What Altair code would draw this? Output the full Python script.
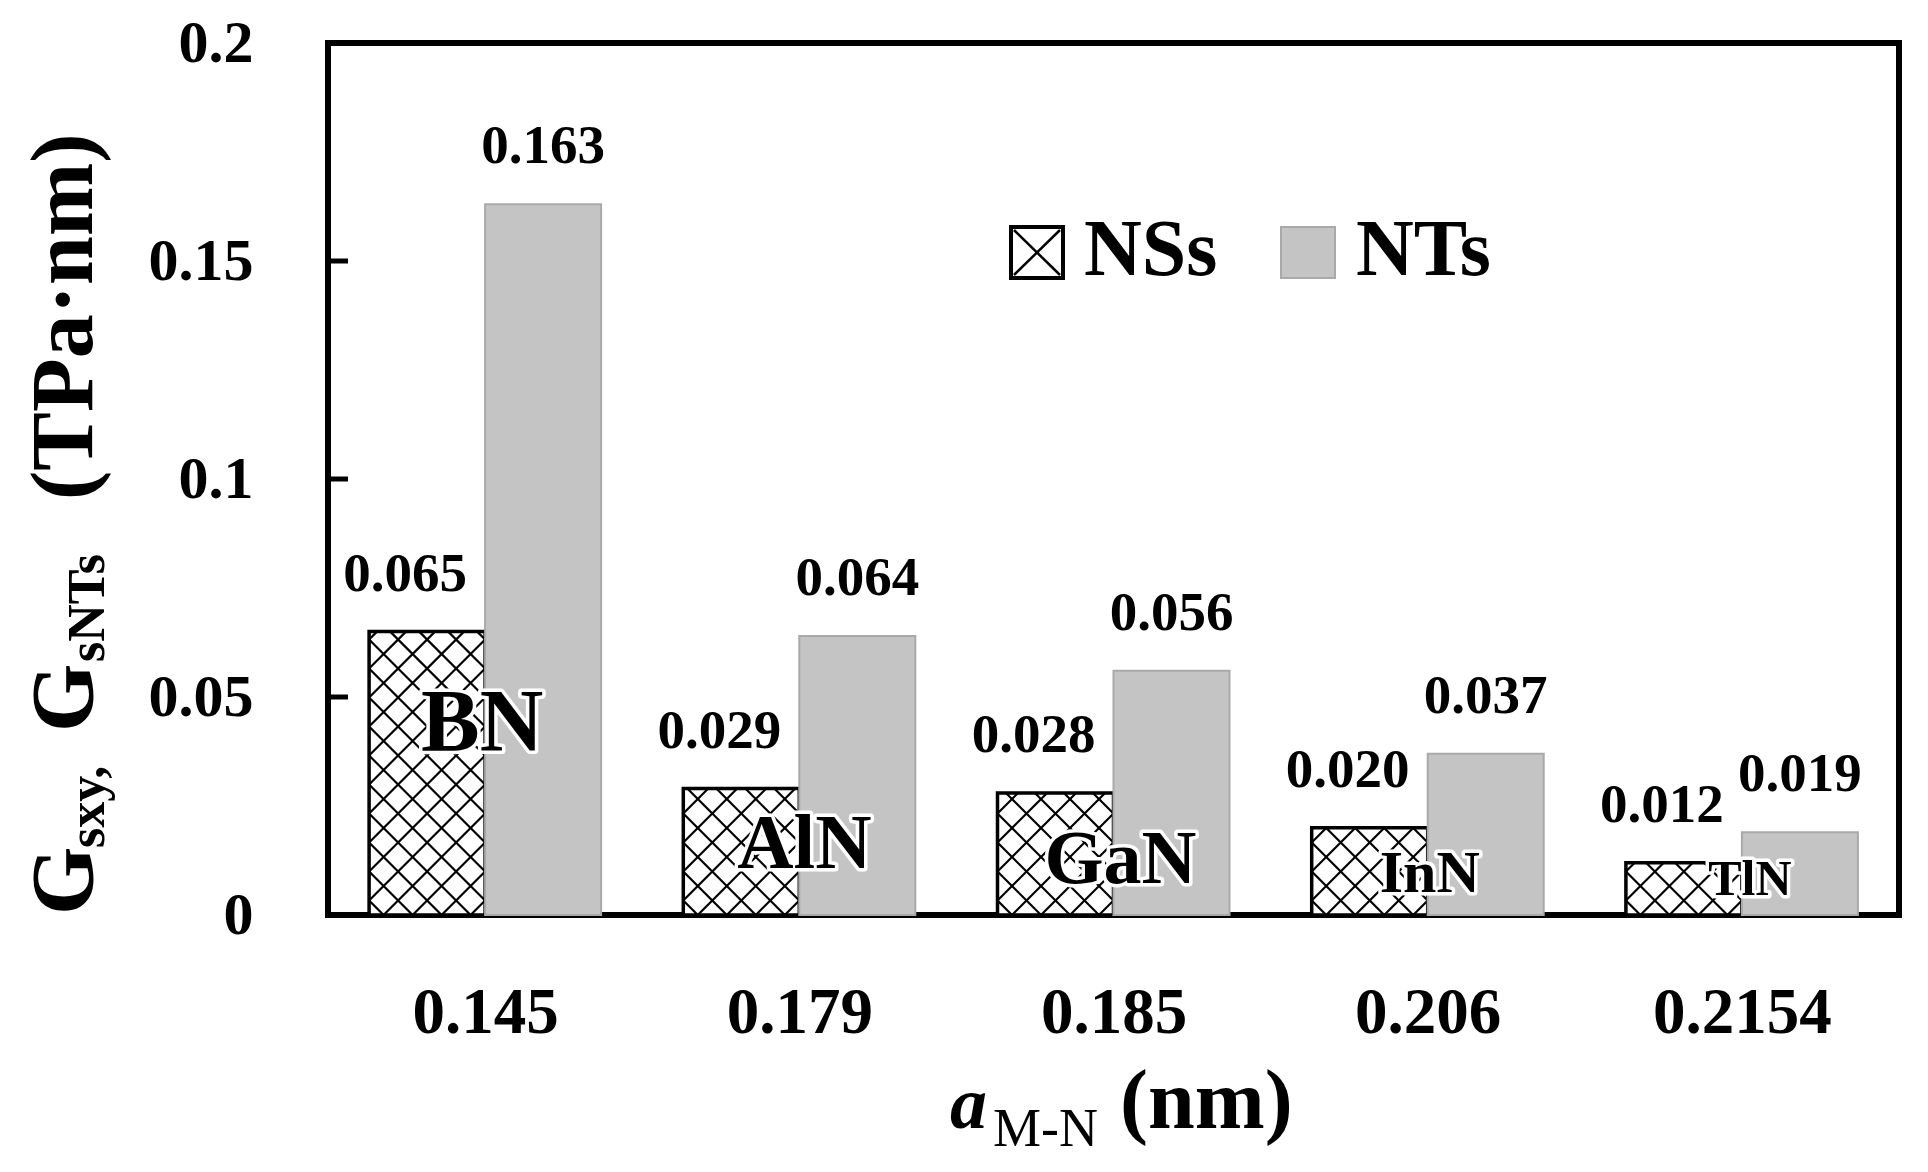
import json
import altair as alt
import numpy as np
import pandas as pd

# ---------------- data ----------------
materials = ["BN", "AlN", "GaN", "InN", "TlN"]
bond_lengths = ["0.145", "0.179", "0.185", "0.206", "0.2154"]
ns_values = [0.065, 0.029, 0.028, 0.020, 0.012]
nt_values = [0.163, 0.064, 0.056, 0.037, 0.019]
y_ticks = [0, 0.05, 0.1, 0.15, 0.2]

# ---------------- geometry ----------------
W, H = 1571, 872
XMAX, YMAX = 5.0, 0.2
PX = W / XMAX
PY = H / YMAX
BW = 116 / PX          # one bar's width in x units
FONT = "Liberation Serif"

xscale = alt.Scale(domain=[0, XMAX], nice=False, zero=False)
yscale = alt.Scale(domain=[0, YMAX], nice=False, zero=True)

rows = []
for i, (m, ns, nt) in enumerate(zip(materials, ns_values, nt_values)):
    c = i + 0.5
    rows.append(dict(material=m, series="NSs", value=ns, x0=c - BW, x1=c,
                     xc=c - BW / 2, label=f"{ns:.3f}"))
    rows.append(dict(material=m, series="NTs", value=nt, x0=c, x1=c + BW,
                     xc=c + BW / 2, label=f"{nt:.3f}"))
bars = pd.DataFrame(rows)
ns_df = bars[bars.series == "NSs"]
nt_df = bars[bars.series == "NTs"]

# cross-hatch lattice clipped to each NSs bar
D = 29.0
segs = []
for i, v in enumerate(ns_values):
    left = i + 0.5 - BW
    w = BW * PX
    h = v * PY
    k0 = int(np.floor(-h / D)) - 1
    k1 = int(np.ceil((w + h) / D)) + 1
    for k in range(k0, k1 + 1):
        c = k * D + D / 2
        xa, xb = max(0.0, c), min(w, h + c)
        if xb - xa > 0.5:
            segs.append(dict(x=left + xa / PX, x2=left + xb / PX,
                             y=(xa - c) / PY, y2=(xb - c) / PY))
        xa, xb = max(0.0, c - h), min(w, c)
        if xb - xa > 0.5:
            segs.append(dict(x=left + xa / PX, x2=left + xb / PX,
                             y=(c - xa) / PY, y2=(c - xb) / PY))
hatch_df = pd.DataFrame(segs)

label_expr = json.dumps(bond_lengths) + "[floor(datum.value)]"

x_axis = alt.Axis(values=[i + 0.5 for i in range(len(materials))], labelExpr=label_expr,
                  title=None, ticks=False, tickSize=0, domain=False, grid=False,
                  labelFont=FONT, labelFontSize=65, labelFontWeight="bold",
                  labelColor="black", labelBaseline="alphabetic", labelPadding=117,
                  labelOverlap=False)
y_axis = alt.Axis(values=y_ticks, format="~g", title=None, ticks=False, tickSize=0,
                  domain=False, grid=False, labelFont=FONT, labelFontSize=60,
                  labelFontWeight="bold", labelColor="black", labelBaseline="middle",
                  labelPadding=75, labelOverlap=False)


def X(field):
    return alt.X(field, scale=xscale, axis=x_axis)


def Y(field):
    return alt.Y(field, scale=yscale, axis=y_axis)


# ---------------- bars ----------------
ns_fill = alt.Chart(ns_df).mark_bar(fill="white", stroke=None).encode(
    x=X("x0:Q"), x2="x1:Q", y=Y("value:Q"), y2=alt.datum(0))

hatch = alt.Chart(hatch_df).mark_rule(color="black", strokeWidth=2.2, strokeCap="butt").encode(
    x=X("x:Q"), x2="x2:Q", y=Y("y:Q"), y2="y2:Q")

ns_outline = alt.Chart(ns_df).mark_bar(fill=None, fillOpacity=0, stroke="black",
                                       strokeWidth=3.5).encode(
    x=X("x0:Q"), x2="x1:Q", y=Y("value:Q"), y2=alt.datum(0))

nt_bars = alt.Chart(nt_df).mark_bar(fill="#c4c4c4", stroke="#a9a9a9", strokeWidth=2).encode(
    x=X("x0:Q"), x2="x1:Q", y=Y("value:Q"), y2=alt.datum(0))

# ---------------- value labels ----------------
def value_labels(df, dx):
    return alt.Chart(df).mark_text(font=FONT, fontSize=55, fontWeight="bold", color="black",
                                   baseline="alphabetic", align="center",
                                   dx=dx, dy=-41).encode(
        x=X("xc:Q"), y=Y("value:Q"), text="label:N")


ns_text = value_labels(ns_df, -22)
nt_text = value_labels(nt_df, 0)

# ---------------- material names inside bars ----------------
cat_style = {"BN": (88, 707, -3), "AlN": (78, 825, 5), "GaN": (76, 840, 7),
             "InN": (60, 849, 2), "TlN": (50, 852, 8)}
cat_layers = []
for i, m in enumerate(materials):
    size, base, dx = cat_style[m]
    d = pd.DataFrame({"material": [m], "xc": [i + 0.5]})
    for halo in (True, False):
        kw = dict(font=FONT, fontSize=size, fontWeight="bold", baseline="alphabetic",
                  align="center", dx=dx)
        if halo:
            kw.update(color="white", stroke="white", strokeWidth=7, strokeJoin="round")
        else:
            kw.update(color="black")
        cat_layers.append(alt.Chart(d).mark_text(**kw).encode(
            x=X("xc:Q"), y=alt.value(base), text="material:N"))

# ---------------- inward y ticks ----------------
tick_df = pd.DataFrame({"t": y_ticks[1:-1]})
ticks = alt.Chart(tick_df).mark_rule(color="black", strokeWidth=5).encode(
    y=Y("t:Q"), x=alt.value(0), x2=alt.value(20))

# ---------------- annotations (legend, axis titles) ----------------
one = pd.DataFrame({"k": [0]})


def txt(s, x, y, size, weight="bold", style="normal", angle=0):
    return alt.Chart(one).mark_text(font=FONT, fontSize=size, fontWeight=weight,
                                    fontStyle=style, angle=angle, align="left",
                                    baseline="alphabetic", color="black").encode(
        x=alt.value(x), y=alt.value(y), text=alt.value(s))


def box(x1, x2, y1, y2, **kw):
    return alt.Chart(one).mark_rect(**kw).encode(
        x=alt.value(x1), x2=alt.value(x2), y=alt.value(y1), y2=alt.value(y2))


def seg(x1, x2, y1, y2, **kw):
    return alt.Chart(one).mark_rule(**kw).encode(
        x=alt.value(x1), x2=alt.value(x2), y=alt.value(y1), y2=alt.value(y2))


legend = [
    box(683, 735, 184, 235, fill="white", stroke="black", strokeWidth=4),
    seg(686, 732, 187, 232, color="black", strokeWidth=2.5),
    seg(686, 732, 232, 187, color="black", strokeWidth=2.5),
    txt("NSs", 756, 232, 80),
    box(953, 1007, 184, 235, fill="#c4c4c4", stroke="#a9a9a9", strokeWidth=2),
    txt("NTs", 1028, 232, 80),
]

y_title = [
    txt("G", -236, 872, 88, angle=270),
    txt("sxy,", -224, 805, 52, angle=270),
    txt("G", -236, 689, 88, angle=270),
    txt("sNTs", -224, 619, 52, angle=270),
    txt("(TPa·nm)", -236, 457, 88, angle=270),
]

x_title = [
    txt("a", 622, 1085, 74, style="italic"),
    txt("M-N", 665, 1103, 54, weight="normal"),
    txt("(nm)", 792, 1085, 84),
]

chart = alt.layer(
    ns_fill, hatch, ns_outline, nt_bars, ns_text, nt_text, *cat_layers, ticks,
    *legend, *y_title, *x_title
).properties(
    width=W, height=H,
    autosize=alt.AutoSizeParams(type="none"),
    padding={"left": 320, "top": 35, "right": 10, "bottom": 246},
    background="white",
).configure(font=FONT).configure_view(stroke="black", strokeWidth=6)

chart.save("out.html", embed_options={"renderer": "svg", "actions": False})
